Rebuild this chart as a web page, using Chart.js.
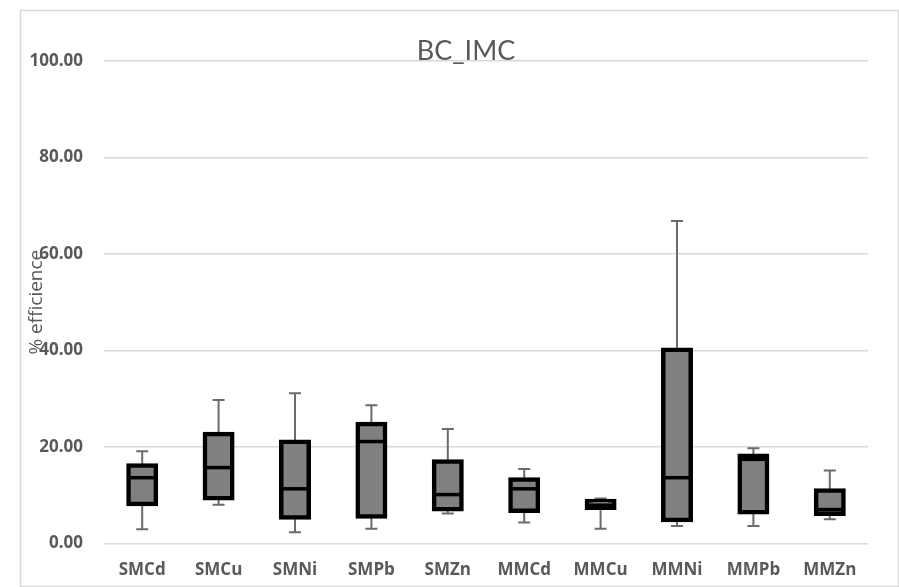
<!DOCTYPE html>
<html>
<head>
<meta charset="utf-8">
<script src="https://cdn.jsdelivr.net/npm/chart.js@4"></script>
<style>
html,body{margin:0;padding:0;background:#fff;}
#wrap{width:899px;height:587px;position:relative;}
</style>
</head>
<body>
<div id="wrap"><canvas id="c" width="899" height="587"></canvas></div>
<script>
const categories = ['SMCd','SMCu','SMNi','SMPb','SMZn','MMCd','MMCu','MMNi','MMPb','MMZn'];
const minValues = [2.9, 8.0, 2.3, 3.0, 6.2, 4.3, 3.0, 3.6, 3.6, 5.0];
const q1Values  = [8.1, 9.3, 5.3, 5.5, 7.0, 6.7, 7.3, 4.8, 6.4, 6.1];
const medianValues = [13.6, 15.7, 11.3, 21.1, 10.1, 11.3, 7.9, 13.6, 17.4, 7.0];
const q3Values  = [16.2, 22.7, 21.1, 24.8, 17.0, 13.3, 8.8, 40.2, 18.2, 11.0];
const maxValues = [19.1, 29.7, 31.1, 28.6, 23.7, 15.4, 9.3, 66.8, 19.7, 15.1];
const yTicks = [0, 20, 40, 60, 80, 100];
const chartTitle = 'BC_IMC';
const yTitle = '% efficience';

const FONT = '"Open Sans", Lato, sans-serif';
const TITLE_FONT = 'Lato, "Open Sans", sans-serif';
const TEXT = '#595959';

const boxRanges = categories.map((c, i) => [q1Values[i], q3Values[i]]);

const framePlugin = {
  id: 'frame',
  beforeDraw(chart) {
    const ctx = chart.ctx;
    ctx.save();
    ctx.fillStyle = '#fff';
    ctx.fillRect(0, 0, chart.width, chart.height);
    ctx.strokeStyle = '#d9d9d9';
    ctx.lineWidth = 1.5;
    ctx.strokeRect(20.5, 10.5, 878, 576);
    ctx.restore();
  },
  afterDraw(chart) {
    const ctx = chart.ctx;
    ctx.save();
    ctx.fillStyle = TEXT;
    ctx.font = '27px ' + TITLE_FONT;
    ctx.textAlign = 'center';
    ctx.textBaseline = 'alphabetic';
    ctx.fillText(chartTitle, 466, 60);
    ctx.translate(37, chart.chartArea.top + (chart.chartArea.bottom - chart.chartArea.top) / 2);
    ctx.rotate(-Math.PI / 2);
    ctx.font = '19px ' + FONT;
    ctx.textBaseline = 'middle';
    ctx.fillText(yTitle, 0, 0);
    ctx.restore();
  }
};

const whiskerPlugin = {
  id: 'whiskers',
  beforeDatasetsDraw(chart) {
    const ctx = chart.ctx;
    const xs = chart.scales.x, ys = chart.scales.y;
    ctx.save();
    ctx.strokeStyle = '#6b6b6b';
    ctx.lineWidth = 2;
    const cap = 6;
    categories.forEach((c, i) => {
      const x = xs.getPixelForValue(i);
      const yMin = ys.getPixelForValue(minValues[i]);
      const yQ1 = ys.getPixelForValue(q1Values[i]);
      const yQ3 = ys.getPixelForValue(q3Values[i]);
      const yMax = ys.getPixelForValue(maxValues[i]);
      ctx.beginPath();
      ctx.moveTo(x, yQ3); ctx.lineTo(x, yMax);
      ctx.moveTo(x - cap, yMax); ctx.lineTo(x + cap, yMax);
      ctx.moveTo(x, yQ1); ctx.lineTo(x, yMin);
      ctx.moveTo(x - cap, yMin); ctx.lineTo(x + cap, yMin);
      ctx.stroke();
    });
    ctx.restore();
  },
  afterDatasetsDraw(chart) {
    const ctx = chart.ctx;
    const ys = chart.scales.y;
    const meta = chart.getDatasetMeta(0);
    ctx.save();
    ctx.strokeStyle = '#000';
    ctx.lineWidth = 3.5;
    meta.data.forEach((bar, i) => {
      const y = ys.getPixelForValue(medianValues[i]);
      const half = bar.width / 2;
      ctx.beginPath();
      ctx.moveTo(bar.x - half, y);
      ctx.lineTo(bar.x + half, y);
      ctx.stroke();
    });
    ctx.restore();
  }
};

new Chart(document.getElementById('c'), {
  type: 'bar',
  data: {
    labels: categories,
    datasets: [
      {
        label: 'box',
        data: boxRanges,
        backgroundColor: '#808080',
        borderColor: '#000',
        borderWidth: 4.5,
        borderSkipped: false,
        inflateAmount: 2
      }
    ]
  },
  options: {
    responsive: false,
    animation: false,
    devicePixelRatio: 1,
    layout: { padding: { top: 61, right: 31, bottom: 0, left: 0 } },
    datasets: { bar: { barPercentage: 0.366, categoryPercentage: 1 } },
    plugins: { legend: { display: false }, tooltip: { enabled: false }, title: { display: false } },
    scales: {
      x: {
        grid: { display: false },
        border: { display: false },
        ticks: { color: TEXT, font: { family: FONT, size: 17, weight: 'bold' }, padding: 9, maxRotation: 0 },
        afterFit(s) { s.height = 587 - 543.3; }
      },
      y: {
        min: 0, max: 100,
        afterBuildTicks(s) { s.ticks = yTicks.map(v => ({ value: v })); },
        grid: { color: '#d9d9d9', lineWidth: 1.5, drawTicks: false },
        border: { display: false },
        ticks: {
          color: TEXT, font: { family: FONT, size: 17, weight: 'bold' }, padding: 21,
          callback: v => Number(v).toFixed(2)
        },
        afterFit(s) { s.width = 104; }
      }
    }
  },
  plugins: [framePlugin, whiskerPlugin]
});
</script>
</body>
</html>
